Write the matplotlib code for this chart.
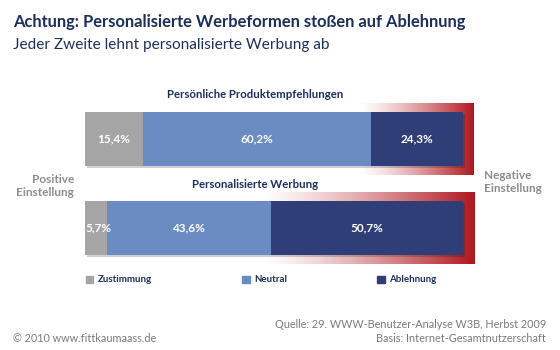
import numpy as np
import matplotlib
matplotlib.use("Agg")
import matplotlib.pyplot as plt
from matplotlib.patches import Patch, Rectangle

# data
categories = ['Persönliche Produktempfehlungen', 'Personalisierte Werbung']
zustimmung = [15.4, 5.7]
neutral = [60.2, 43.6]
ablehnung = [24.3, 50.7]
series_names = ['Zustimmung', 'Neutral', 'Ablehnung']

GRAY = '#a5a5a5'
BLUE = '#6b8bc3'
DARK = '#2f3e76'
NAVY = '#1b2f5c'
TXTGRAY = '#8c8c8c'
RED = (0.69, 0.09, 0.12)

W, H = 560, 350
plt.rcParams['font.family'] = ['Lato', 'DejaVu Sans']


def fx(px):
    return px / W


def fy(py):
    return 1 - py / H


fig = plt.figure(figsize=(5.6, 3.5), dpi=100)
fig.patch.set_facecolor('white')

# axes covering bar area: x 85..463 px, y 112..255 px
ax = fig.add_axes([fx(85), fy(255), (463 - 85) / W, (255 - 112) / H])
bar_h = 0.607
ax.axis('off')

ypos = [1, 0]
# red glow behind Ablehnung segment
n = 256
t = np.linspace(0, 1, n)
grad = np.zeros((1, n, 4))
grad[..., 0], grad[..., 1], grad[..., 2] = RED
grad[..., 3] = t ** 1.3
for y, z, ne in zip(ypos, zustimmung, neutral):
    start = z + ne - 3
    ax.imshow(grad, extent=(start, 103, y - bar_h / 2 - 0.1, y + bar_h / 2 + 0.1),
              aspect='auto', zorder=0, clip_on=False, interpolation='bilinear')

ax.set_xlim(0, 100)
ax.set_ylim(-bar_h / 2, 1 + bar_h / 2)

# soft shadow
for y in ypos:
    ax.add_patch(Rectangle((0.6, y - bar_h / 2 - 0.025), 100, bar_h, color='#000000',
                           alpha=0.18, lw=0, zorder=1, clip_on=False))

left = np.zeros(2)
for vals, col in zip([zustimmung, neutral, ablehnung], [GRAY, BLUE, DARK]):
    ax.barh(ypos, vals, left=left, height=bar_h, color=col, lw=0, zorder=2)
    for y, l, v in zip(ypos, left, vals):
        lbl = f"{v:.1f}%".replace('.', ',')
        if v < 8:
            # narrow segment: start label at the left edge
            ax.text(l + 0.1, y, lbl, ha='left', va='center', color='white',
                    fontsize=8.5, fontweight='bold', zorder=3)
        else:
            ax.text(l + v / 2, y, lbl, ha='center', va='center', color='white',
                    fontsize=8.5, fontweight='bold', zorder=3)
    left = left + np.array(vals)

# titles
fig.text(fx(13), fy(22), 'Achtung: Personalisierte Werbeformen stoßen auf Ablehnung',
         fontsize=11.9, fontweight='bold', color=NAVY, va='center', ha='left')
fig.text(fx(13), fy(45), 'Jeder Zweite lehnt personalisierte Werbung ab',
         fontsize=11.1, color=NAVY, va='center', ha='left')

for cat, py in zip(categories, [95, 185]):
    fig.text(fx(255), fy(py), cat, fontsize=8.2, fontweight='bold', color=NAVY,
             ha='center', va='center')

fig.text(fx(74), fy(186), 'Positive\nEinstellung', fontsize=8.5, fontweight='bold',
         color=TXTGRAY, ha='right', va='center', linespacing=1.15)
fig.text(fx(484), fy(182), 'Negative\nEinstellung', fontsize=8.5, fontweight='bold',
         color=TXTGRAY, ha='left', va='center', linespacing=1.15)

handles = [Patch(color=c) for c in [GRAY, BLUE, DARK]]
leg = fig.legend(handles, series_names, ncol=3, loc='center left',
                 bbox_to_anchor=(fx(86), fy(280)), frameon=False, fontsize=7,
                 handlelength=0.75, handleheight=0.75, handletextpad=0.45,
                 columnspacing=9.3, borderpad=0, borderaxespad=0)
for txt in leg.get_texts():
    txt.set_color(NAVY)
    txt.set_fontweight('bold')

fig.text(fx(13), fy(339), '© 2010 www.fittkaumaass.de', fontsize=7.8, color='#7a7a7a',
         ha='left', va='center')
fig.text(fx(546), fy(325), 'Quelle: 29. WWW-Benutzer-Analyse W3B, Herbst 2009',
         fontsize=7.8, color='#7a7a7a', ha='right', va='center')
fig.text(fx(546), fy(339), 'Basis: Internet-Gesamtnutzerschaft', fontsize=7.8,
         color='#7a7a7a', ha='right', va='center')

fig.savefig('out.png', dpi=100)
